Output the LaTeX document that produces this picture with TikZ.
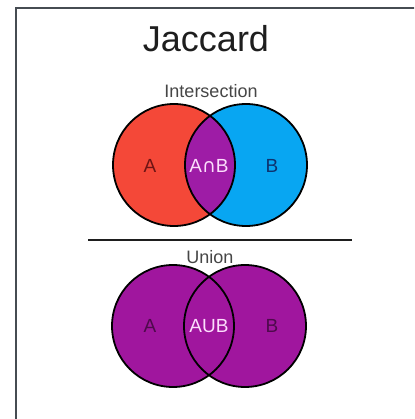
\documentclass[tikz,border=0pt]{standalone}
\usepackage{fontspec}
\setmainfont{Liberation Sans}
\newfontfamily\symbolfont{DejaVu Sans}
\usepackage{xcolor}
\usetikzlibrary{positioning}
\definecolor{FrameGray}{RGB}{70, 76, 82}
\definecolor{TitleGray}{RGB}{30, 30, 30}
\definecolor{CaptionGray}{RGB}{70, 70, 70}
\definecolor{SetRed}{RGB}{244, 72, 56}
\definecolor{SetBlue}{RGB}{8, 166, 242}
\definecolor{SetPurple}{RGB}{158, 28, 166}
\definecolor{UnionPurple}{RGB}{160, 22, 158}
\definecolor{LabelRed}{RGB}{110, 20, 20}
\definecolor{LabelBlue}{RGB}{14, 50, 110}
\definecolor{LabelPurple}{RGB}{78, 10, 76}
\definecolor{LabelPink}{RGB}{252, 222, 252}

\begin{document}
\begin{tikzpicture}[x=1pt, y=-1pt,
  set/.style={circle, minimum size=122pt, inner sep=0pt},
  outline/.style={draw=black, line width=1.8pt},
  caption/.style={text=CaptionGray, font=\fontsize{18}{21}\selectfont},
  setlabel/.style={font=\fontsize{19}{22}\selectfont}]
  \clip (0,0) rectangle (414,419);
  \fill[white] (0,0) rectangle (414,419);
  \draw[FrameGray, line width=2.5pt] (16,8) rectangle (440,440);

  \node[text=TitleGray, font=\fontsize{36}{42}\selectfont] (title) at (206,39) {Jaccard};

  % intersection
  \node[caption] (interCaption) at (211,91) {Intersection};
  \node[set, fill=SetRed] (topA) at (174,165) {};
  \node[set, fill=SetBlue] (topB) at (246,165) {};
  \begin{scope}
    \clip (topA.center) circle[radius=61pt];
    \fill[SetPurple] (topB.center) circle[radius=61pt];
  \end{scope}
  \draw[outline] (topA.center) circle[radius=61pt];
  \draw[outline] (topB.center) circle[radius=61pt];
  \node[setlabel, text=LabelRed] (topLabelA) at (150,166) {A};
  \node[setlabel, text=LabelPink] (topLabelAB) at (209,166) {A{\symbolfont ∩}B};
  \node[setlabel, text=LabelBlue] (topLabelB) at (272,166) {B};

  \draw[TitleGray, line width=2pt] (88,240) -- (352,240);

  % union
  \node[caption] (unionCaption) at (210,257) {Union};
  \node[set, fill=UnionPurple] (botA) at (173,326) {};
  \node[set, fill=UnionPurple] (botB) at (245,326) {};
  \draw[outline] (botA.center) circle[radius=61pt];
  \draw[outline] (botB.center) circle[radius=61pt];
  \node[setlabel, text=LabelPurple] (botLabelA) at (150,326) {A};
  \node[setlabel, text=LabelPink] (botLabelAB) at (209,326) {AUB};
  \node[setlabel, text=LabelPurple] (botLabelB) at (272,326) {B};
\end{tikzpicture}
\end{document}
